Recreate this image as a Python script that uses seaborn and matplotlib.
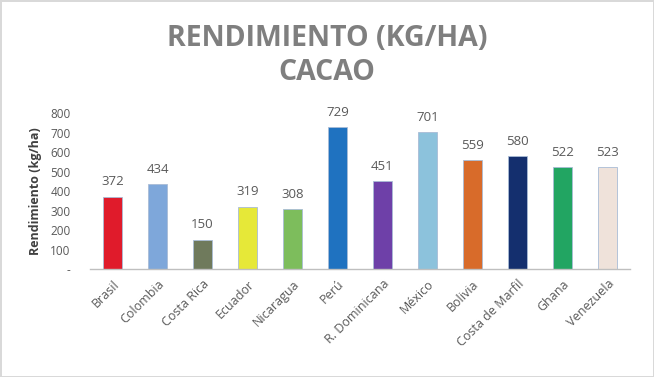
import matplotlib
matplotlib.use("Agg")
import matplotlib.pyplot as plt
import seaborn as sns
import pandas as pd

# Data
countries = ["Brasil", "Colombia", "Costa Rica", "Ecuador", "Nicaragua", "Perú",
             "R. Dominicana", "México", "Bolivia", "Costa de Marfil", "Ghana", "Venezuela"]
yields = [372, 434, 150, 319, 308, 729, 451, 701, 559, 580, 522, 523]
bar_colors = ["#e01b2b", "#7ea7da", "#6f7a5c", "#e6e838", "#7dbd5c", "#1f72c0",
              "#6e40a8", "#8cc2dc", "#d86b2a", "#142f6e", "#22a562", "#efe2da"]
y_ticks = [0, 100, 200, 300, 400, 500, 600, 700, 800]
y_tick_labels = ["-", "100", "200", "300", "400", "500", "600", "700", "800"]

df = pd.DataFrame({"País": countries, "Rendimiento": yields})

sns.set_style("white")
plt.rcParams["font.family"] = ["Open Sans", "DejaVu Sans"]

fig = plt.figure(figsize=(6.54, 3.77), dpi=100)
fig.patch.set_facecolor("white")
fig.patch.set_edgecolor("#d9d9d9")
fig.patch.set_linewidth(2)
ax = fig.add_axes([0.1376, 0.2865, 0.8254, 0.4135])

sns.barplot(data=df, x="País", y="Rendimiento", hue="País", palette=bar_colors,
            saturation=1, width=0.42, legend=False, ax=ax,
            edgecolor="#a9bcd6", linewidth=0.6)

for container in ax.containers:
    ax.bar_label(container, padding=6, fontsize=9.5, color="#595959")

ax.set_ylim(0, 800)
ax.set_yticks(y_ticks)
ax.set_yticklabels(y_tick_labels, fontsize=8.5, color="#595959")
ax.tick_params(axis="y", length=0, pad=14)
ax.tick_params(axis="x", length=0, pad=6)
ax.set_xticks(range(len(countries)))
ax.set_xticklabels(countries, rotation=45, ha="right", rotation_mode="anchor",
                   fontsize=9, color="#595959")
ax.set_xlabel("")
ax.set_ylabel("Rendimiento (kg/ha)", fontsize=9, fontweight="bold", color="#404040", labelpad=6)

for side in ["top", "right", "left"]:
    ax.spines[side].set_visible(False)
ax.spines["bottom"].set_color("#bfbfbf")
ax.spines["bottom"].set_linewidth(1)

fig.text(0.5, 0.898, "RENDIMIENTO (KG/HA)", ha="center", va="center",
         fontsize=20.5, fontweight="bold", color="#7f7f7f")
fig.text(0.5, 0.808, "CACAO", ha="center", va="center",
         fontsize=20.5, fontweight="bold", color="#7f7f7f")

fig.savefig("out.png", dpi=100)
